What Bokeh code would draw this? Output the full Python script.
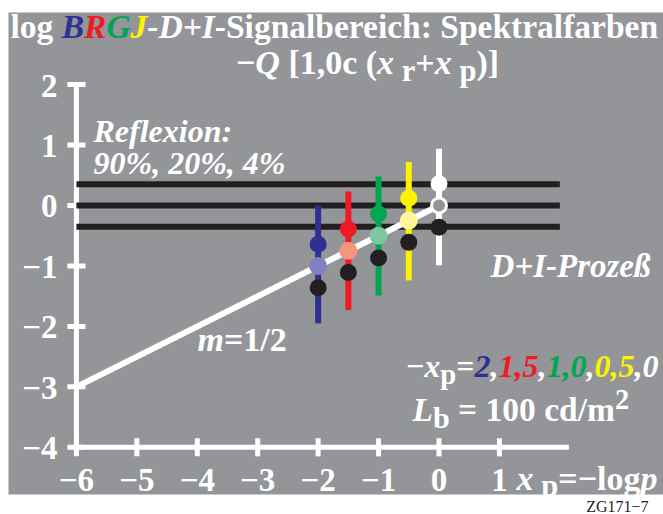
from bokeh.plotting import figure
from bokeh.models import Range1d
from bokeh.core.properties import value
from bokeh.embed import file_html
from bokeh.resources import INLINE

# ---------------- data ----------------
xp_values = [-2.0, -1.5, -1.0, -0.5, 0.0]          # x_p = -log p
y_upper = [-0.64, -0.39, -0.14, 0.12, 0.36]       # reflexion 90%
y_mid = [-1.00, -0.75, -0.50, -0.25, 0.00]        # reflexion 20%
y_lower = [-1.36, -1.11, -0.87, -0.61, -0.36]     # reflexion 4%
bar_top = [0.00, 0.23, 0.48, 0.72, 0.94]
bar_bottom = [-1.95, -1.73, -1.49, -1.24, -0.99]
reflex_levels = [0.35, 0.0, -0.35]
slope_x = [-6.0, 0.0]
slope_y = [-3.0, 0.0]
x_ticks = [-6, -5, -4, -3, -2, -1, 0, 1]
y_ticks = [-4, -3, -2, -1, 0, 1, 2]
x_tick_labels = ["−6", "−5", "−4", "−3", "−2", "−1", "0", "1"]
y_tick_labels = ["−4", "−3", "−2", "−1", "0", "1", "2"]

# ---------------- styles ----------------
GRAY = "#939598"
WHITE = "#ffffff"
BLACK = "#231f20"
BLUE = "#2e3192"
RED = "#ed1c24"
GREEN = "#00a651"
YELLOW = "#fff200"
LBLUE = "#8280c0"
LRED = "#f5967a"
LGREEN = "#7dc8a0"
LYELLOW = "#fff799"
bar_colors = [BLUE, RED, GREEN, YELLOW, WHITE]
upper_colors = [BLUE, RED, GREEN, YELLOW, WHITE]
mid_colors = [LBLUE, LRED, LGREEN, LYELLOW, GRAY]
mid_line_colors = [LBLUE, LRED, LGREEN, LYELLOW, WHITE]
FONT = "Liberation Serif"
BASE_SHIFT = 0.32   # em correction of the rendered baseline

# pixel <-> data mapping (canvas coordinates)
X0, SX = 438.5, 60.43
Y0, SY = 205.0, 60.45
def px2x(px):
    return (px - X0) / SX
def py2y(py):
    return (Y0 - py) / SY

W = 663
H = 514
p = figure(width=W, height=H, output_backend="svg", toolbar_location=None,
           x_range=Range1d(px2x(0), px2x(W)), y_range=Range1d(py2y(H), py2y(0)),
           min_border_left=0, min_border_right=0, min_border_top=0, min_border_bottom=0)
p.axis.visible = False
p.grid.visible = False
p.outline_line_color = None
p.background_fill_color = WHITE
p.border_fill_color = WHITE

# gray panel
p.quad(left=[px2x(8)], right=[px2x(W)], top=[py2y(12)], bottom=[py2y(494)],
       fill_color=GRAY, line_color=None)

# axes
p.segment(x0=[-6], y0=[-4], x1=[-6], y1=[2.03], line_color=WHITE, line_width=5)
p.segment(x0=[-6], y0=[-4], x1=[2.15], y1=[-4], line_color=WHITE, line_width=5)
p.segment(x0=[-6.15] * len(y_ticks), y0=y_ticks, x1=[-5.85] * len(y_ticks), y1=y_ticks,
          line_color=WHITE, line_width=5)
p.segment(x0=x_ticks, y0=[-4.15] * len(x_ticks), x1=x_ticks, y1=[-3.85] * len(x_ticks),
          line_color=WHITE, line_width=5)

# reflexion levels
p.segment(x0=[-6] * 3, y0=reflex_levels, x1=[2] * 3, y1=reflex_levels,
          line_color=BLACK, line_width=6)
# slope line m=1/2
p.line(slope_x, slope_y, line_color=WHITE, line_width=6)
# vertical bars
p.segment(x0=xp_values, y0=bar_bottom, x1=xp_values, y1=bar_top,
          line_color=bar_colors, line_width=6)
# points
p.scatter(xp_values, y_lower, size=17, fill_color=BLACK, line_color=None)
p.scatter(xp_values, y_upper, size=17, fill_color=upper_colors, line_color=None)
p.scatter(xp_values, y_mid, size=15, fill_color=mid_colors, line_color=mid_line_colors, line_width=3)

# ---------------- text helpers ----------------
WB = {' ': 250, '%': 1000, '(': 333, ')': 333, '+': 570, ',': 250, '-': 333, '.': 250, '/': 278,
      ':': 333, '=': 570, '[': 333, ']': 333, '−': 570,
      'B': 667, 'D': 722, 'G': 778, 'I': 389, 'J': 500, 'L': 667, 'P': 611, 'Q': 778, 'R': 722, 'S': 556,
      'a': 500, 'b': 556, 'c': 444, 'd': 556, 'e': 444, 'f': 333, 'g': 500, 'h': 556, 'i': 278,
      'k': 556, 'l': 278, 'm': 833, 'n': 556, 'o': 500, 'p': 556, 'r': 444, 's': 389, 't': 333,
      'x': 500, 'z': 444, 'ß': 556}
for d in "0123456789":
    WB[d] = 500
WBI = {' ': 250, '%': 833, ',': 250, '-': 333, '+': 570, '=': 570, ':': 333, '/': 278, '−': 606,
       'B': 667, 'D': 722, 'G': 722, 'I': 389, 'J': 500, 'L': 611, 'P': 611, 'Q': 722, 'R': 667,
       'S': 556, 'a': 500, 'b': 500, 'c': 444, 'e': 444, 'f': 333, 'g': 500, 'i': 278, 'l': 278,
       'm': 778, 'n': 556, 'o': 500, 'p': 500, 'r': 389, 'x': 500, 'z': 389, 'ß': 500}
for d in "0123456789":
    WBI[d] = 500

def width(text, style, size):
    tab = WBI if "italic" in style else WB
    return sum(tab.get(c, 500) for c in text) * size / 1000.0

def ybase(py, size):
    return py2y(py - BASE_SHIFT * size)

def rich(segs, x_px, base_py, size, align="left"):
    # segs: (text, color, style, dy_px, scale)
    ws = [width(t, st, size * sc) for (t, c, st, dy, sc) in segs]
    total = sum(ws)
    cur = x_px - total if align == "right" else (x_px - total / 2 if align == "center" else x_px)
    for (t, c, st, dy, sc), w in zip(segs, ws):
        lead = len(t) - len(t.lstrip(" "))
        start = cur + lead * 250 * size * sc / 1000.0
        p.text(x=[px2x(start)], y=[ybase(base_py + dy, size * sc)], text=[t.strip(" ")], text_color=c,
               text_font=value(FONT), text_font_style=st,
               text_font_size=value(f"{size * sc:.1f}px"),
               text_align="left", text_baseline="alphabetic")
        cur += w

B, BI = "bold", "bold italic"

# title
rich([("log ", WHITE, B, 0, 1), ("B", BLUE, BI, 0, 1), ("R", RED, BI, 0, 1), ("G", GREEN, BI, 0, 1),
      ("J", YELLOW, BI, 0, 1), ("-", WHITE, BI, 0, 1), ("D+I", WHITE, BI, 0, 1),
      ("-Signalbereich: Spektralfarben", WHITE, B, 0, 1)], 10, 37, 33.5)
rich([("−", WHITE, B, 0, 1), ("Q", WHITE, BI, 0, 1), (" [1,0c (", WHITE, B, 0, 1),
      ("x", WHITE, BI, 0, 1), (" r", WHITE, B, 7, 0.9), ("+", WHITE, B, 0, 1),
      ("x", WHITE, BI, 0, 1), (" p", WHITE, B, 7, 0.9), (")]", WHITE, B, 0, 1)], 367, 73, 34, "center")

# tick labels
p.text(x=[px2x(57)] * len(y_ticks), y=[ybase(Y0 - v * SY + 11.5, 33) for v in y_ticks], text=y_tick_labels,
       text_color=WHITE, text_font=value(FONT), text_font_style="bold", text_font_size=value("33px"),
       text_align="right", text_baseline="alphabetic")
p.text(x=x_ticks, y=[ybase(490, 33)] * len(x_ticks), text=x_tick_labels,
       text_color=WHITE, text_font=value(FONT), text_font_style="bold", text_font_size=value("33px"),
       text_align="center", text_baseline="alphabetic")
rich([("x", WHITE, BI, 0, 1), (" p", WHITE, B, 6, 0.9), ("=−log", WHITE, B, 0, 1), ("p", WHITE, BI, 0, 1)],
     657, 489, 34, "right")

# annotations
rich([("Reflexion:", WHITE, BI, 0, 1)], 93, 141, 32)
rich([("90%, 20%, 4%", WHITE, BI, 0, 1)], 93, 173, 32)
rich([("D+I-Prozeß", WHITE, BI, 0, 1)], 650, 276, 33, "right")
rich([("m", WHITE, BI, 0, 1), ("=1/2", WHITE, B, 0, 1)], 197, 350, 34)
rich([("−", WHITE, B, 0, 1), ("x", WHITE, BI, 0, 1), ("p", WHITE, B, 7, 0.9), ("=", WHITE, B, 0, 1),
      ("2", BLUE, BI, 0, 1), (",", WHITE, BI, 0, 1), ("1,5", RED, BI, 0, 1), (",", WHITE, BI, 0, 1),
      ("1,0", GREEN, BI, 0, 1), (",", WHITE, BI, 0, 1), ("0,5", YELLOW, BI, 0, 1),
      (",0", WHITE, BI, 0, 1)], 658, 376, 32, "right")
rich([("L", WHITE, BI, 0, 1), ("b", WHITE, B, 7, 0.9), (" = 100 cd/m", WHITE, B, 0, 1),
      ("2", WHITE, B, -12, 0.85)], 412, 420, 33.5)

# figure code
p.text(x=[px2x(648)], y=[ybase(511, 16)], text=["ZG171−7"], text_color=BLACK,
       text_font=value(FONT), text_font_size=value("16px"), text_align="right", text_baseline="alphabetic")

open("out.html", "w").write(file_html(p, INLINE))
